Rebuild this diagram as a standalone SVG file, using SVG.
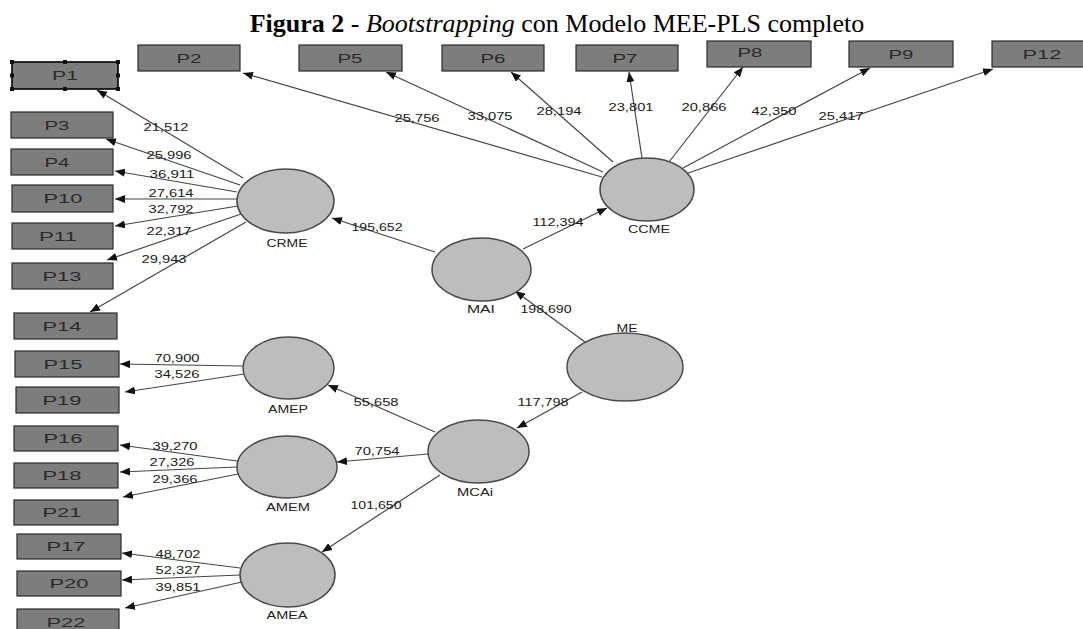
<svg xmlns="http://www.w3.org/2000/svg" width="1083" height="629" viewBox="0 0 1083 629">
<style>
.box{fill:#7d7d7d;stroke:#2b2b2b;stroke-width:1.2}
.bt{font-family:"Liberation Sans",Arial,sans-serif;font-size:12px;fill:#2a2a2a;text-anchor:middle}
.lv{fill:#bdbdbd;stroke:#4a4a4a;stroke-width:1.5}
.lt{font-family:"Liberation Sans",Arial,sans-serif;font-size:11px;fill:#222;text-anchor:middle}
.num{font-family:"Liberation Sans",Arial,sans-serif;font-size:11px;fill:#1a1a1a;text-anchor:middle}
.conn line{stroke:#454545;stroke-width:1.2;fill:none;marker-end:url(#ah)}
.hd{fill:#111}
</style>
<defs>
<marker id="ah" markerUnits="userSpaceOnUse" markerWidth="10" markerHeight="8" refX="10" refY="4" orient="auto">
<path d="M0,0 L10,4 L0,8 z" fill="#111"/>
</marker>
</defs>
<rect width="1083" height="629" fill="#fff"/>
<text x="557" y="32" text-anchor="middle" font-family="'Liberation Serif','Times New Roman',serif" font-size="26" fill="#000"><tspan font-weight="bold">Figura 2</tspan> - <tspan font-style="italic">Bootstrapping</tspan> con Modelo MEE-PLS completo</text>

<g class="conn" id="connectors">
<line x1="243" y1="178" x2="97" y2="90"/>
<line x1="240" y1="185" x2="106" y2="139"/>
<line x1="237" y1="192" x2="115" y2="171"/>
<line x1="237" y1="199" x2="115" y2="199"/>
<line x1="238" y1="206" x2="115" y2="226"/>
<line x1="241" y1="214" x2="107" y2="260"/>
<line x1="246" y1="222" x2="90" y2="312"/>
<line x1="602" y1="177" x2="243" y2="73"/>
<line x1="603" y1="172" x2="386" y2="72"/>
<line x1="613" y1="162" x2="511" y2="72"/>
<line x1="642" y1="158" x2="629" y2="72"/>
<line x1="669" y1="162" x2="743" y2="67"/>
<line x1="683" y1="168" x2="870" y2="68"/>
<line x1="688" y1="173" x2="993" y2="69"/>
<line x1="435" y1="252" x2="332" y2="218"/>
<line x1="523" y1="249" x2="607" y2="208"/>
<line x1="585" y1="342" x2="515" y2="291"/>
<line x1="582" y1="392" x2="517" y2="428"/>
<line x1="435" y1="432" x2="328" y2="385"/>
<line x1="428" y1="454" x2="337" y2="462"/>
<line x1="440" y1="475" x2="322" y2="552"/>
<line x1="243" y1="366" x2="120" y2="364"/>
<line x1="244" y1="374" x2="125" y2="392"/>
<line x1="237" y1="461" x2="120" y2="445"/>
<line x1="237" y1="467" x2="120" y2="472"/>
<line x1="238" y1="474" x2="123" y2="497"/>
<line x1="240" y1="568" x2="122" y2="553"/>
<line x1="240" y1="575" x2="122" y2="580"/>
<line x1="242" y1="582" x2="125" y2="608"/>
</g>

<g id="path-labels">
<text class="num" x="166" y="131" textLength="45" lengthAdjust="spacingAndGlyphs">21,512</text>
<text class="num" x="169" y="159" textLength="45" lengthAdjust="spacingAndGlyphs">25,996</text>
<text class="num" x="172" y="178" textLength="45" lengthAdjust="spacingAndGlyphs">36,911</text>
<text class="num" x="171" y="197" textLength="45" lengthAdjust="spacingAndGlyphs">27,614</text>
<text class="num" x="171" y="213" textLength="45" lengthAdjust="spacingAndGlyphs">32,792</text>
<text class="num" x="169" y="235" textLength="45" lengthAdjust="spacingAndGlyphs">22,317</text>
<text class="num" x="164" y="263" textLength="45" lengthAdjust="spacingAndGlyphs">29,943</text>
<text class="num" x="417" y="122" textLength="45" lengthAdjust="spacingAndGlyphs">25,756</text>
<text class="num" x="490" y="120" textLength="45" lengthAdjust="spacingAndGlyphs">33,075</text>
<text class="num" x="559" y="115" textLength="45" lengthAdjust="spacingAndGlyphs">28,194</text>
<text class="num" x="631" y="111" textLength="45" lengthAdjust="spacingAndGlyphs">23,801</text>
<text class="num" x="704" y="111" textLength="45" lengthAdjust="spacingAndGlyphs">20,866</text>
<text class="num" x="774" y="115" textLength="45" lengthAdjust="spacingAndGlyphs">42,350</text>
<text class="num" x="841" y="120" textLength="45" lengthAdjust="spacingAndGlyphs">25,417</text>
<text class="num" x="558" y="226" textLength="51" lengthAdjust="spacingAndGlyphs">112,394</text>
<text class="num" x="377" y="231" textLength="51" lengthAdjust="spacingAndGlyphs">195,652</text>
<text class="num" x="546" y="313" textLength="51" lengthAdjust="spacingAndGlyphs">198,690</text>
<text class="num" x="543" y="406" textLength="51" lengthAdjust="spacingAndGlyphs">117,798</text>
<text class="num" x="376" y="406" textLength="45" lengthAdjust="spacingAndGlyphs">55,658</text>
<text class="num" x="377" y="455" textLength="45" lengthAdjust="spacingAndGlyphs">70,754</text>
<text class="num" x="376" y="509" textLength="51" lengthAdjust="spacingAndGlyphs">101,650</text>
<text class="num" x="177" y="362" textLength="45" lengthAdjust="spacingAndGlyphs">70,900</text>
<text class="num" x="177" y="378" textLength="45" lengthAdjust="spacingAndGlyphs">34,526</text>
<text class="num" x="175" y="450" textLength="45" lengthAdjust="spacingAndGlyphs">39,270</text>
<text class="num" x="172" y="466" textLength="45" lengthAdjust="spacingAndGlyphs">27,326</text>
<text class="num" x="175" y="483" textLength="45" lengthAdjust="spacingAndGlyphs">29,366</text>
<text class="num" x="178" y="558" textLength="45" lengthAdjust="spacingAndGlyphs">48,702</text>
<text class="num" x="178" y="574" textLength="45" lengthAdjust="spacingAndGlyphs">52,327</text>
<text class="num" x="178" y="591" textLength="45" lengthAdjust="spacingAndGlyphs">39,851</text>
</g>

<g id="CRME"><ellipse class="lv" cx="285.5" cy="201" rx="48.5" ry="32"/><text class="lt" x="287" y="247" textLength="41" lengthAdjust="spacingAndGlyphs">CRME</text></g>
<g id="CCME"><ellipse class="lv" cx="647" cy="189.5" rx="47" ry="31.5"/><text class="lt" x="649" y="233" textLength="42" lengthAdjust="spacingAndGlyphs">CCME</text></g>
<g id="MAI"><ellipse class="lv" cx="481.5" cy="269.5" rx="49.5" ry="31.5"/><text class="lt" x="481" y="313" textLength="28" lengthAdjust="spacingAndGlyphs">MAI</text></g>
<g id="ME"><ellipse class="lv" cx="625" cy="367" rx="58" ry="34"/><text class="lt" x="627" y="332" textLength="21" lengthAdjust="spacingAndGlyphs">ME</text></g>
<g id="MCAi"><ellipse class="lv" cx="478.5" cy="451.5" rx="50.5" ry="31.5"/><text class="lt" x="475" y="496" textLength="36" lengthAdjust="spacingAndGlyphs">MCAi</text></g>
<g id="AMEP"><ellipse class="lv" cx="288.5" cy="368" rx="45.5" ry="31"/><text class="lt" x="288" y="413" textLength="40" lengthAdjust="spacingAndGlyphs">AMEP</text></g>
<g id="AMEM"><ellipse class="lv" cx="287" cy="467" rx="50" ry="31"/><text class="lt" x="288" y="511" textLength="44" lengthAdjust="spacingAndGlyphs">AMEM</text></g>
<g id="AMEA"><ellipse class="lv" cx="287.5" cy="575" rx="47.5" ry="32"/><text class="lt" x="287" y="619" textLength="41" lengthAdjust="spacingAndGlyphs">AMEA</text></g>

<g id="P1"><rect x="12" y="62" width="106" height="27" fill="#7d7d7d" stroke="#000" stroke-width="1.6"/><text class="bt" x="65" y="80" textLength="26" lengthAdjust="spacingAndGlyphs">P1</text>
<rect class="hd" x="10" y="60" width="4" height="4"/><rect class="hd" x="63" y="60" width="4" height="4"/><rect class="hd" x="116" y="60" width="4" height="4"/>
<rect class="hd" x="10" y="73.5" width="4" height="4"/><rect class="hd" x="116" y="73.5" width="4" height="4"/>
<rect class="hd" x="10" y="87" width="4" height="4"/><rect class="hd" x="63" y="87" width="4" height="4"/><rect class="hd" x="116" y="87" width="4" height="4"/></g>
<g id="P2"><rect class="box" x="138" y="45" width="102" height="26"/><text class="bt" x="189" y="62.5" textLength="25" lengthAdjust="spacingAndGlyphs">P2</text></g>
<g id="P5"><rect class="box" x="299" y="45" width="103" height="26"/><text class="bt" x="350" y="62.5" textLength="25" lengthAdjust="spacingAndGlyphs">P5</text></g>
<g id="P6"><rect class="box" x="442" y="45" width="102" height="26"/><text class="bt" x="493" y="62.5" textLength="25" lengthAdjust="spacingAndGlyphs">P6</text></g>
<g id="P7"><rect class="box" x="576" y="45" width="102" height="26"/><text class="bt" x="625" y="62.5" textLength="25" lengthAdjust="spacingAndGlyphs">P7</text></g>
<g id="P8"><rect class="box" x="707" y="41" width="104" height="26"/><text class="bt" x="750" y="57" textLength="25" lengthAdjust="spacingAndGlyphs">P8</text></g>
<g id="P9"><rect class="box" x="849" y="41" width="104" height="26"/><text class="bt" x="901" y="58.5" textLength="25" lengthAdjust="spacingAndGlyphs">P9</text></g>
<g id="P12"><rect class="box" x="992" y="41" width="103" height="26"/><text class="bt" x="1042" y="58.5" textLength="39" lengthAdjust="spacingAndGlyphs">P12</text></g>
<g id="P3"><rect class="box" x="11" y="112" width="102" height="26"/><text class="bt" x="57" y="129.5" textLength="25" lengthAdjust="spacingAndGlyphs">P3</text></g>
<g id="P4"><rect class="box" x="11" y="149" width="102" height="26"/><text class="bt" x="57" y="166.5" textLength="25" lengthAdjust="spacingAndGlyphs">P4</text></g>
<g id="P10"><rect class="box" x="12" y="185" width="101" height="27"/><text class="bt" x="63" y="203" textLength="39" lengthAdjust="spacingAndGlyphs">P10</text></g>
<g id="P11"><rect class="box" x="12" y="223" width="101" height="26"/><text class="bt" x="58" y="240.5" textLength="38" lengthAdjust="spacingAndGlyphs">P11</text></g>
<g id="P13"><rect class="box" x="12" y="263" width="101" height="26"/><text class="bt" x="62" y="280.5" textLength="39" lengthAdjust="spacingAndGlyphs">P13</text></g>
<g id="P14"><rect class="box" x="14" y="313" width="103" height="26"/><text class="bt" x="62" y="330.5" textLength="39" lengthAdjust="spacingAndGlyphs">P14</text></g>
<g id="P15"><rect class="box" x="15" y="351" width="104" height="26"/><text class="bt" x="63" y="368.5" textLength="39" lengthAdjust="spacingAndGlyphs">P15</text></g>
<g id="P19"><rect class="box" x="16" y="387" width="103" height="26"/><text class="bt" x="62" y="404.5" textLength="39" lengthAdjust="spacingAndGlyphs">P19</text></g>
<g id="P16"><rect class="box" x="14" y="426" width="104" height="25"/><text class="bt" x="63" y="443" textLength="39" lengthAdjust="spacingAndGlyphs">P16</text></g>
<g id="P18"><rect class="box" x="14" y="463" width="104" height="25"/><text class="bt" x="62" y="480" textLength="39" lengthAdjust="spacingAndGlyphs">P18</text></g>
<g id="P21"><rect class="box" x="14" y="500" width="104" height="25"/><text class="bt" x="62" y="517" textLength="39" lengthAdjust="spacingAndGlyphs">P21</text></g>
<g id="P17"><rect class="box" x="17" y="534" width="104" height="25"/><text class="bt" x="66" y="551" textLength="39" lengthAdjust="spacingAndGlyphs">P17</text></g>
<g id="P20"><rect class="box" x="17" y="571" width="104" height="25"/><text class="bt" x="69" y="588" textLength="39" lengthAdjust="spacingAndGlyphs">P20</text></g>
<g id="P22"><rect class="box" x="17" y="609" width="102" height="26"/><text class="bt" x="66" y="626.5" textLength="39" lengthAdjust="spacingAndGlyphs">P22</text></g>
</svg>
